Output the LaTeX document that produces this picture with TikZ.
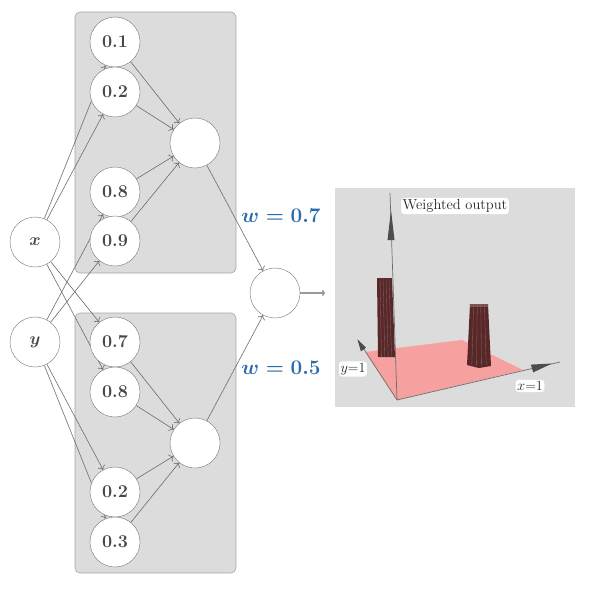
\documentclass[tikz,border=0pt]{standalone}
\usetikzlibrary{arrows.meta}
\pgfdeclarelayer{background}
\pgfdeclarelayer{edges}
\pgfsetlayers{background,edges,main}
\definecolor{wblue}{RGB}{42,108,170}
\definecolor{panelgray}{RGB}{220,220,220}
\definecolor{planered}{RGB}{246,160,160}
\definecolor{barred}{RGB}{88,40,40}
\definecolor{axisgray}{RGB}{110,110,110}

\begin{document}
\begin{tikzpicture}[x=1pt, y=-1pt, >={To[length=4pt,width=8pt]},
    neuron/.style={circle, draw=black!55, fill=white, minimum size=50pt, inner sep=0pt,
                   font=\fontsize{18}{20}\selectfont\bfseries, text=black!72},
    link/.style={->, draw=black!58, line width=0.6pt},
    netbox/.style={draw=black!35, fill=panelgray, rounded corners=5pt, line width=0.6pt},
    wlabel/.style={text=wblue, font=\fontsize{20}{22}\selectfont\boldmath},
    plotlabel/.style={fill=white, rounded corners=3pt, inner sep=1.5pt, text=black!85}]

    \useasboundingbox (0,0) rectangle (589,604);

    % inputs
    \node[neuron, font=\fontsize{19}{21}\selectfont\boldmath] (x) at (35,242) {$x$};
    \node[neuron, font=\fontsize{19}{21}\selectfont\boldmath] (y) at (35,342) {$y$};

    % step neurons, upper and lower tower
    \foreach \name/\val/\ypos in {t1/0.1/42, t2/0.2/92, t3/0.8/192, t4/0.9/241}
        \node[neuron] (\name) at (115,\ypos) {\val};
    \foreach \name/\val/\ypos in {b1/0.7/342, b2/0.8/392, b3/0.2/492, b4/0.3/542}
        \node[neuron] (\name) at (115,\ypos) {\val};

    \node[neuron] (ht) at (195,143) {};
    \node[neuron] (hb) at (195,443) {};
    \node[neuron] (out) at (275,293) {};
    \coordinate (end) at (325,293);

    \node[wlabel] (w1) at (281,216) {$w = 0.7$};
    \node[wlabel] (w2) at (281,368) {$w = 0.5$};

    \begin{pgfonlayer}{background}
        \draw[netbox] (75,12) rectangle (236,273);
        \draw[netbox] (75,313) rectangle (236,573);
        \fill[panelgray] (335,188) rectangle (575,407);
    \end{pgfonlayer}

    \begin{pgfonlayer}{edges}
        \foreach \a/\b in {x/t1, x/t2, y/t3, y/t4, x/b1, x/b2, y/b3, y/b4}
            \draw[link] (\a) -- (\b);
        \foreach \n in {t1, t2, t3, t4}
            \draw[link] (\n) -- (ht);
        \foreach \n in {b1, b2, b3, b4}
            \draw[link] (\n) -- (hb);
        \draw[link] (ht) -- (out);
        \draw[link] (hb) -- (out);
        \draw[link, draw=black!40, line width=1.5pt, >={To[length=3pt,width=6pt]}] (out) -- (end);
    \end{pgfonlayer}

    % the plot: plane, towers, axes
    \fill[planered] (365,352) -- (462,340) -- (523,370) -- (397,400) -- cycle;
    \fill[barred] (377,278) -- (392,278) -- (395,357) -- (378,357) -- cycle;
    \fill[barred] (470,304) -- (488,304) -- (491,366) -- (479,368) -- (467,365) -- cycle;
    \fill[barred!80!white] (470,304) -- (488,304) -- (488,307) -- (470,307) -- cycle;
    \foreach \s in {0.2,0.4,0.6,0.8}
        \draw[barred!70!white, line width=0.3pt] ({377+15*\s},278) -- ({378+17*\s},357);
    \foreach \s in {0.2,0.4,0.6,0.8}
        \draw[barred!70!white, line width=0.3pt] ({470+18*\s},304) -- ({467+24*\s},365);

    \draw[axisgray, line width=0.7pt] (397,400) -- (390,193);
    \fill[black!70] (387.5,240) -- (394.5,240) -- (391,210) -- cycle;
    \draw[axisgray, line width=0.7pt] (397,400) -- (560,362);
    \fill[black!70] (533.2,372.4) -- (530.8,364.6) -- (552,363.5) -- cycle;
    \draw[axisgray, line width=0.7pt] (397,400) -- (358,340);
    \fill[black!70] (366.1,347.6) -- (360.9,351.4) -- (357.5,339.5) -- cycle;

    \node[plotlabel, font=\fontsize{14.5}{16}\selectfont] (zlab) at (455,206) {Weighted output};
    \node[plotlabel, font=\fontsize{14}{15}\selectfont] (ylab) at (353,369) {$y$=1};
    \node[plotlabel, font=\fontsize{14}{15}\selectfont] (xlab) at (530,386) {$x$=1};
\end{tikzpicture}
\end{document}
